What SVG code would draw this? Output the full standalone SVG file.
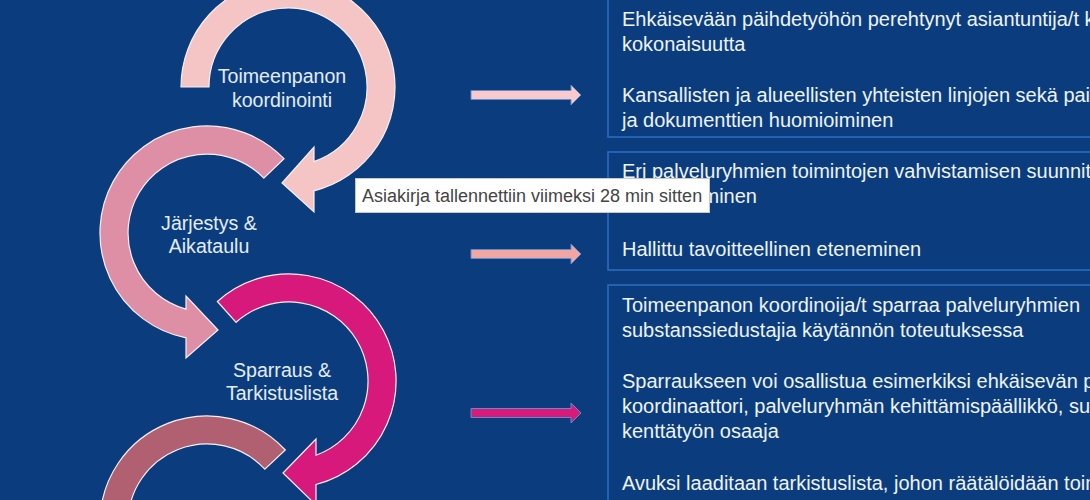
<svg xmlns="http://www.w3.org/2000/svg" width="1090" height="500" viewBox="0 0 1090 500">
<style>
.bg{fill:#0b3d7e}
.box{fill:#0b3d7e;stroke:#2a6cc0;stroke-width:1.6}
.txt{font-family:"Liberation Sans",Arial,sans-serif;font-size:20px;fill:#eef3fa}
.lbl{font-family:"Liberation Sans",Arial,sans-serif;font-size:19.6px;fill:#e4ecf7;text-anchor:middle}
.carc{stroke:#f4f0f4;stroke-width:1.2;stroke-linejoin:miter}
.harr{stroke:#5f8dcc;stroke-width:1}
.tip{font-family:"Liberation Sans",Arial,sans-serif;font-size:18px;fill:#444444}
</style>
<rect class="bg" x="0" y="0" width="1090" height="500"/>

<g id="cycle-1">
<path class="carc" fill="#f5c4c4" d="M181,87 A107,107 0 1 1 314,190.8 L314,212 L282,183 L314,147 L314,161.6 A79,79 0 1 0 209,87 Z"/>
<text class="lbl" x="282" y="83">Toimeenpanon</text>
<text class="lbl" x="282" y="107">koordinointi</text>
</g>

<g id="cycle-2">
<path class="carc" fill="#de8fa5" d="M284,158.7 A107,107 0 1 0 186,337.9 L186,358 L218,330 L186,296 L186,309.2 A79,79 0 1 1 263.8,178.1 Z"/>
<text class="lbl" x="209" y="230">Järjestys &amp;</text>
<text class="lbl" x="209" y="253">Aikataulu</text>
</g>

<g id="cycle-3">
<path class="carc" fill="#d6197a" d="M217.4,301.5 A107,107 0 1 1 316,484.5 L316,505 L283,473 L316,439 L316,455.2 A79,79 0 1 0 236.1,322.3 Z"/>
<text class="lbl" x="282" y="377">Sparraus &amp;</text>
<text class="lbl" x="282" y="400">Tarkistuslista</text>
</g>

<g id="cycle-4">
<path class="carc" fill="#b06070" d="M285.3,450 A107,107 0 0 0 100,523 L128,523 A79,79 0 0 1 264.8,469.1 Z"/>
</g>

<g id="connectors">
<path class="harr" fill="#f9c9cb" d="M471,90.5 H571 V85 L581,95 L571,105 V99.5 H471 Z"/>
<path class="harr" fill="#f0a7a3" d="M471,249.5 H571 V244 L581,254 L571,264 V258.5 H471 Z"/>
<path class="harr" fill="#d81b78" d="M471,408.5 H571 V403 L581,413 L571,423 V417.5 H471 Z"/>
</g>

<g id="box-1">
<rect class="box" x="608" y="-10" width="500" height="147"/>
<text class="txt" x="622" y="26">Ehkäisevään päihdetyöhön perehtynyt asiantuntija/t ko</text>
<text class="txt" x="622" y="51">kokonaisuutta</text>
<text class="txt" x="622" y="102">Kansallisten ja alueellisten yhteisten linjojen sekä paika</text>
<text class="txt" x="622" y="127">ja dokumenttien huomioiminen</text>
</g>

<g id="box-2">
<rect class="box" x="608" y="152" width="500" height="118"/>
<text class="txt" x="622" y="178">Eri palveluryhmien toimintojen vahvistamisen suunnitt</text>
<text class="txt" x="757" y="203" text-anchor="end">minen</text>
<text class="txt" x="622" y="256">Hallittu tavoitteellinen eteneminen</text>
</g>

<g id="box-3">
<rect class="box" x="608" y="285" width="500" height="230"/>
<text class="txt" x="622" y="312">Toimeenpanon koordinoija/t sparraa palveluryhmien</text>
<text class="txt" x="622" y="337">substanssiedustajia käytännön toteutuksessa</text>
<text class="txt" x="622" y="388">Sparraukseen voi osallistua esimerkiksi ehkäisevän päi</text>
<text class="txt" x="622" y="413">koordinaattori, palveluryhmän kehittämispäällikkö, suu</text>
<text class="txt" x="622" y="438">kenttätyön osaaja</text>
<text class="txt" x="622" y="490">Avuksi laaditaan tarkistuslista, johon räätälöidään toim</text>
</g>

<g id="tooltip">
<rect x="355.5" y="178.5" width="354" height="34" fill="#ffffff" stroke="#c8c8c8" stroke-width="1"/>
<text class="tip" x="362" y="202">Asiakirja tallennettiin viimeksi 28 min sitten</text>
</g>
</svg>
